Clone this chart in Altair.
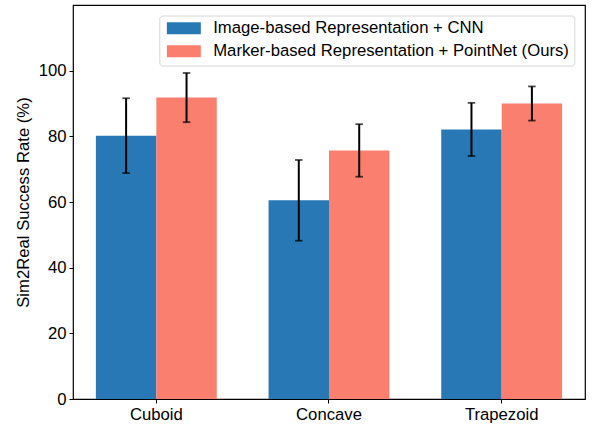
import altair as alt
import pandas as pd

# Sim2Real success rates (mean ± std, %) per object shape
categories = ["Cuboid", "Concave", "Trapezoid"]
methods = [
    "Image-based Representation + CNN",
    "Marker-based Representation + PointNet (Ours)",
]
image_mean = [80.2, 60.5, 82.1]
image_err = [11.4, 12.3, 8.1]
marker_mean = [91.8, 75.7, 90.0]
marker_err = [7.5, 8.0, 5.2]
y_ticks = [0, 20, 40, 60, 80, 100]

colors = ["#2878B5", "#FA7F6F"]
FONT = "Liberation Sans"
FS = 16.7

rows = []
for cat, m, e in zip(categories, image_mean, image_err):
    rows.append({"category": cat, "method": methods[0], "mean": m, "err": e})
for cat, m, e in zip(categories, marker_mean, marker_err):
    rows.append({"category": cat, "method": methods[1], "mean": m, "err": e})
df = pd.DataFrame(rows)
df["lo"] = df["mean"] - df["err"]
df["hi"] = df["mean"] + df["err"]

x_enc = alt.X(
    "category:N",
    sort=categories,
    scale=alt.Scale(paddingInner=0.3, paddingOuter=0.1325),
    axis=alt.Axis(
        title=None, labelAngle=0, labelFontSize=FS, labelFont=FONT,
        labelColor="black", tickColor="black", tickSize=4, labelPadding=3,
        domain=False,
    ),
)
xoff = alt.XOffset("method:N", sort=methods,
                   scale=alt.Scale(paddingInner=0, paddingOuter=0))
y_scale = alt.Scale(domain=[0, 120], nice=False, zero=True)

base = alt.Chart(df)

bars = base.mark_bar(strokeWidth=0).encode(
    x=x_enc,
    xOffset=xoff,
    y=alt.Y(
        "mean:Q",
        scale=y_scale,
        axis=alt.Axis(
            title="Sim2Real Success Rate (%)", values=y_ticks, grid=False,
            labelFontSize=FS, labelFont=FONT, labelColor="black",
            titleFontSize=FS, titleFont=FONT, titleFontWeight="normal",
            titleColor="black", tickColor="black", tickSize=4,
            labelPadding=3, titlePadding=6, domain=False,
        ),
    ),
    color=alt.Color(
        "method:N",
        sort=methods,
        scale=alt.Scale(domain=methods, range=colors),
        legend=alt.Legend(
            title=None, orient="none", legendX=86.3, legendY=10.5,
            symbolType="M-2.83,-1H2.83V1H-2.83Z", symbolSize=144,
            symbolStrokeWidth=0, symbolOpacity=1, symbolOffset=11.7,
            labelFontSize=FS, labelFont=FONT, labelColor="black",
            labelOffset=21, labelLimit=500, rowPadding=5,
            padding=4.5, strokeColor="#d6d6d6", fillColor="white",
            cornerRadius=3,
        ),
    ),
)

err_rule = base.mark_rule(color="black", strokeWidth=2).encode(
    x=x_enc, xOffset=xoff,
    y=alt.Y("lo:Q", scale=y_scale), y2="hi:Q",
)
cap_lo = base.mark_tick(color="black", size=7.5, thickness=1.8).encode(
    x=x_enc, xOffset=xoff, y=alt.Y("lo:Q", scale=y_scale),
)
cap_hi = base.mark_tick(color="black", size=7.5, thickness=1.8).encode(
    x=x_enc, xOffset=xoff, y=alt.Y("hi:Q", scale=y_scale),
)

chart = (
    alt.layer(bars, err_rule, cap_lo, cap_hi)
    .properties(
        width=512, height=394,
        autosize=alt.AutoSizeParams(type="none"),
        padding={"left": 73, "top": 5, "right": 10, "bottom": 27},
        background="white",
    )
    .configure_view(stroke="black", strokeWidth=1.2)
)

chart.save("out.html", embed_options={"renderer": "svg", "actions": False})
